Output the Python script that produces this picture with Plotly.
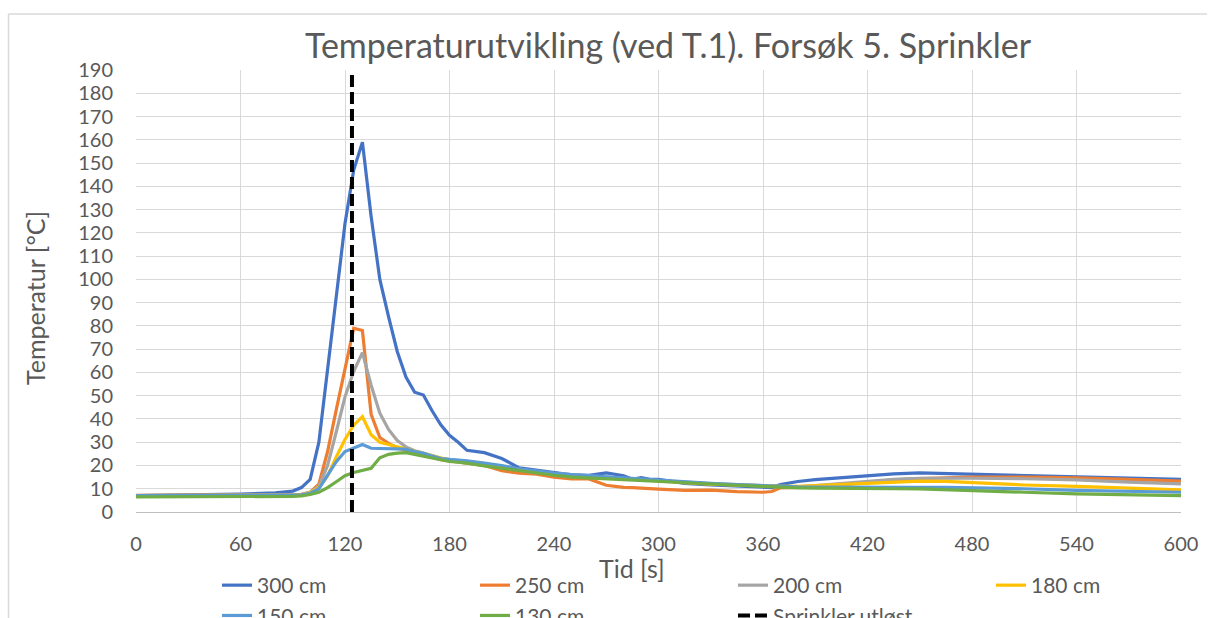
import plotly.graph_objects as go

t = [0, 20, 40, 60, 80, 90, 95, 100, 105, 110, 115, 120, 125, 130, 135, 140, 145, 150, 155, 160,
     165, 170, 175, 180, 185, 190, 200, 210, 220, 230, 240, 250, 260, 270, 280, 285, 290, 295, 300, 315,
     330, 345, 360, 365, 370, 380, 390, 405, 420, 435, 450, 465, 480, 510, 540, 570, 600]

s300 = [7.0, 7.2, 7.4, 7.7, 8.2, 9.0, 10.5, 14, 30, 61, 92, 124, 147, 159, 127, 100, 84, 69, 58, 51.5,
        50.3, 43.5, 37.5, 33, 30, 26.5, 25.5, 23, 19, 18, 17.2, 16, 15.8, 16.8, 15.6, 14.1, 14.8, 14, 14, 12.3,
        11.6, 11, 10.6, 10.5, 11.8, 13.1, 13.9, 14.8, 15.6, 16.4, 16.8, 16.5, 16.2, 15.8, 15.1, 14.6, 14]
s250 = [7.2, 7.2, 7.3, 7.3, 7.4, 7.4, 7.6, 8.5, 12, 26, 44, 61, 79, 78, 42, 32, 29.5, 27.5, 26.5, 25.5,
        24.5, 23.5, 22.5, 22, 21.5, 21, 20, 17.8, 16.7, 16.3, 15, 14.2, 14.2, 11.5, 10.6, 10.5, 10.2, 10, 9.8, 9.3,
        9.4, 8.8, 8.5, 8.8, 10.4, 10.6, 10.9, 11.8, 12.8, 13.8, 14.4, 14.7, 15, 15, 14.7, 14, 13.3]
s200 = [7, 7, 7.1, 7.1, 7.2, 7.3, 7.5, 8.5, 11, 20, 34.5, 49.5, 60.5, 68.5, 54.5, 42.5, 35.5, 30.7, 28, 26.3,
        25.3, 24.2, 23.2, 22.5, 22.2, 21.8, 20.8, 19.6, 18.3, 17.3, 16.6, 16, 15.5, 15, 14.5, 14.3, 14, 13.8, 13.5, 12.8,
        12.2, 11.7, 11.2, 11, 10.9, 10.8, 11.3, 12.2, 13.1, 14, 14.5, 14.6, 14.5, 14.3, 13.8, 12.8, 12.1]
s180 = [7, 7, 7, 7.1, 7.2, 7.3, 7.4, 8.3, 10.5, 15.5, 23.7, 31.2, 37.3, 41, 33.2, 30, 29, 28, 27.3, 26.2,
        25.2, 24.2, 23.2, 22.4, 22, 21.6, 20.6, 19.4, 18.1, 17.1, 16.4, 15.8, 15.3, 14.8, 14.3, 14.1, 13.8, 13.6, 13.3, 12.6,
        12, 11.5, 11, 10.9, 11, 11, 11.3, 11.8, 12.3, 13, 13.3, 13.2, 12.6, 11.6, 11, 10.3, 9.5]
s150 = [7, 7, 7, 7.1, 7.2, 7.3, 7.4, 8, 10, 16, 21.6, 26, 27.5, 29, 27.4, 27.3, 27.3, 27.2, 27, 26,
        25.2, 24, 23, 22.6, 22.3, 22, 21, 20, 18.5, 17.5, 16.7, 16.1, 15.6, 15.1, 14.6, 14.4, 14.1, 13.9, 13.6, 12.9,
        12.3, 11.8, 11.3, 11.1, 11, 10.8, 10.7, 10.6, 10.6, 10.6, 10.6, 10.6, 10.5, 10, 9.3, 8.8, 8.5]
s130 = [6.5, 6.5, 6.5, 6.6, 6.6, 6.7, 6.9, 7.5, 8.5, 10.5, 13, 15.6, 17, 18, 18.8, 23.3, 24.8, 25.3, 25.5, 24.8,
        24, 23.2, 22.3, 21.7, 21.4, 21, 19.8, 18.8, 17.6, 16.8, 15.8, 15, 14.6, 14.3, 14, 13.8, 13.6, 13.3, 13, 12.5,
        12, 11.5, 11, 10.8, 10.6, 10.4, 10.3, 10.1, 10, 10, 9.9, 9.5, 9, 8.5, 7.8, 7.4, 7]

names = ["300 cm", "250 cm", "200 cm", "180 cm", "150 cm", "130 cm"]
colors = ["#4472C4", "#ED7D31", "#A5A5A5", "#FFC000", "#5B9BD5", "#70AD47"]
series = [s300, s250, s200, s180, s150, s130]

sprinkler_t = [124, 124]
sprinkler_y = [0, 190]

FONT = "Lato, 'Open Sans', sans-serif"
GREY = "#595959"

fig = go.Figure()
for n, c, s in zip(names, colors, series):
    fig.add_trace(go.Scatter(x=t, y=s, name=n, mode="lines",
                             line=dict(color=c, width=3.2)))
fig.add_trace(go.Scatter(x=sprinkler_t, y=sprinkler_y, name="Sprinkler utløst", mode="lines",
                         line=dict(color="black", width=4, dash="12px,5px")))

W, H = 1208, 618
L, R, T, B = 136, 1181, 70, 512
pw, ph = R - L, B - T

def px_x(x):
    return (x - L) / pw

def px_y(y):
    return (B - y) / ph

fig.update_layout(
    width=W, height=H,
    margin=dict(l=L, r=W - R, t=T, b=H - B, autoexpand=False),
    paper_bgcolor="white", plot_bgcolor="white",
    font=dict(family=FONT, color=GREY, size=20),
    title=dict(text="Temperaturutvikling (ved T.1). Forsøk 5. Sprinkler",
               x=668 / W, xanchor="center", y=1 - 46 / H, yanchor="middle",
               xref="container", yref="container",
               font=dict(family=FONT, size=34, color=GREY)),
    xaxis=dict(range=[0, 600], dtick=60, tick0=0, showgrid=True, gridcolor="#D9D9D9", gridwidth=1,
               zeroline=False, showline=True, linecolor="#BFBFBF", linewidth=1, ticks="",
               ticklabelstandoff=14, tickfont=dict(size=20, color=GREY)),
    yaxis=dict(range=[0, 190], dtick=10, tick0=0, showgrid=True, gridcolor="#D9D9D9", gridwidth=1,
               zeroline=False, showline=False, ticks="", ticklabelstandoff=22,
               tickfont=dict(size=20, color=GREY)),
    showlegend=True,
    legend=dict(orientation="h", x=px_x(217), xanchor="left", y=px_y(565), yanchor="top",
                entrywidth=213, entrywidthmode="pixels", font=dict(size=21, color=GREY),
                bgcolor="rgba(0,0,0,0)", traceorder="normal", tracegroupgap=0),
    annotations=[
        dict(text="Temperatur [°C]", xref="paper", yref="paper", x=px_x(35), y=px_y(298),
             xanchor="center", yanchor="middle", textangle=-90, showarrow=False,
             font=dict(size=25, color=GREY)),
        dict(text="Tid [s]", xref="paper", yref="paper", x=px_x(632), y=px_y(568),
             xanchor="center", yanchor="middle", showarrow=False,
             font=dict(size=25, color=GREY)),
    ],
    shapes=[
        dict(type="line", xref="paper", yref="paper", x0=px_x(8.5), x1=px_x(1207), y0=px_y(14), y1=px_y(14),
             line=dict(color="#D9D9D9", width=1.5), layer="below"),
        dict(type="line", xref="paper", yref="paper", x0=px_x(8.5), x1=px_x(8.5), y0=px_y(14), y1=px_y(640),
             line=dict(color="#D9D9D9", width=1.5), layer="below"),
    ],
)

fig.write_html("out.html", config={"displayModeBar": False})
